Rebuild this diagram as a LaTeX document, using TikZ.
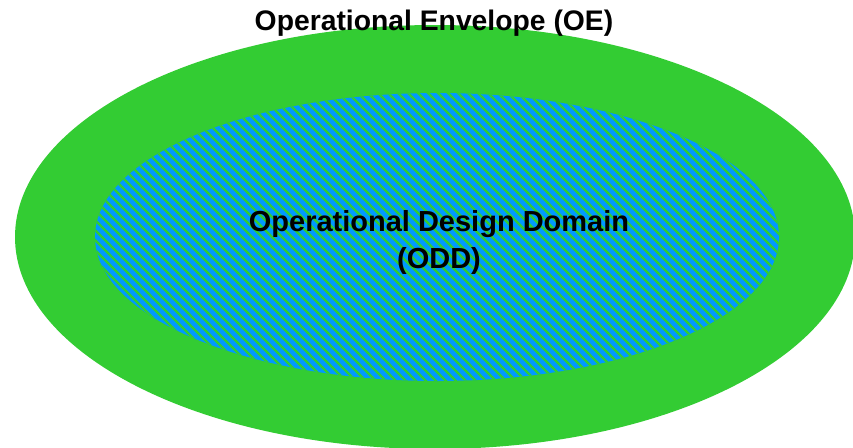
\documentclass[tikz,border=0pt]{standalone}
\usepackage{fontspec}
\setmainfont{Liberation Sans}
\definecolor{envgreen}{RGB}{51,204,51}
\definecolor{oddblue}{RGB}{0,153,255}
\tikzset{
  label text/.style={text=black, align=center, inner sep=0pt},
  envelope region/.style={fill=envgreen, draw=none},
  odd region/.style={fill=oddblue, draw=none},
  odd stripe/.style={draw=envgreen, line width=2.4pt}
}
\begin{document}
\begin{tikzpicture}[x=1pt,y=-1pt]
  \useasboundingbox (0,0) rectangle (853,447);
  % outer region: operational envelope
  \path[envelope region] (435,237) ellipse [x radius=420, y radius=212];
  % inner region: operational design domain, hatched with diagonal stripes
  \path[odd region] (437,237) ellipse [x radius=342, y radius=144];
  \begin{scope}
    \clip (437,237) ellipse [x radius=342, y radius=144];
    \foreach \i in {-220,-210,...,800} {
      \draw[odd stripe] (\i,85) -- (\i+310,395);
    }
  \end{scope}
  \node[label text, font=\fontsize{28.3}{37}\selectfont\bfseries] (oe) at (434,23) {Operational Envelope (OE)};
  \node[label text, font=\fontsize{29}{37}\selectfont\bfseries] (odd) at (439,242) {Operational Design Domain\\(ODD)};
\end{tikzpicture}
\end{document}
